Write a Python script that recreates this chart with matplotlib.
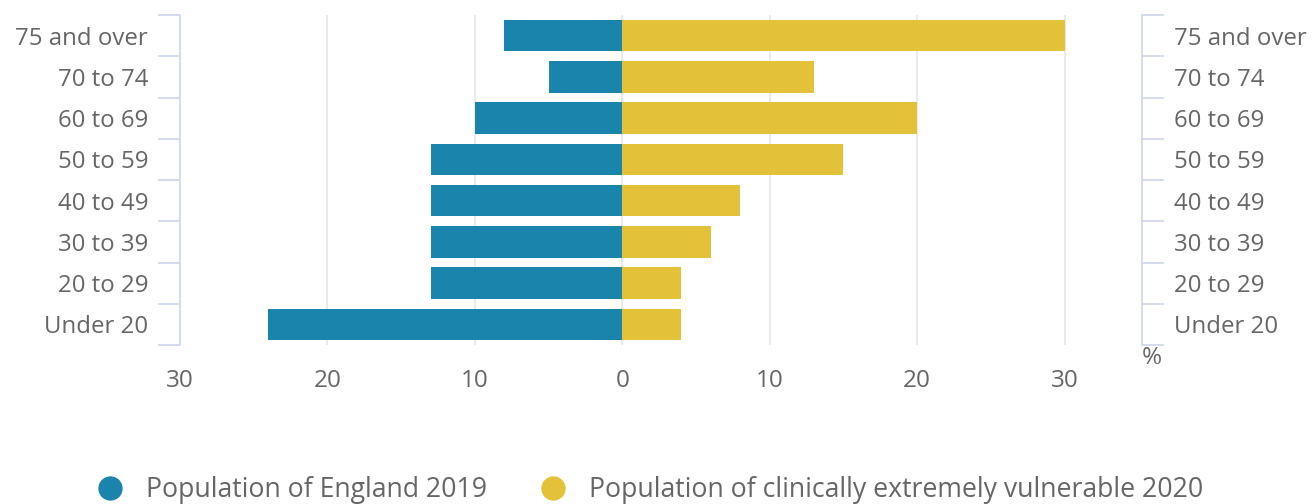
import matplotlib.pyplot as plt
from matplotlib.lines import Line2D
import numpy as np

# age bands, top to bottom as shown
age_groups = ['75 and over', '70 to 74', '60 to 69', '50 to 59',
              '40 to 49', '30 to 39', '20 to 29', 'Under 20']
england_2019 = [8, 5, 10, 13, 13, 13, 13, 24]
cev_2020 = [30, 13, 20, 15, 8, 6, 4, 4]
x_ticks = [-30, -20, -10, 0, 10, 20, 30]

blue = '#1a84ad'
yellow = '#e3c23a'
grey_text = '#666666'
axis_col = '#ccd6eb'
grid_col = '#e6e6e6'

plt.rcParams['font.family'] = ['Open Sans', 'DejaVu Sans']

W, H = 1315, 504
fig = plt.figure(figsize=(W / 100, H / 100), dpi=100)
ax = fig.add_axes([180 / W, (H - 345) / H, (1142 - 180) / W, 330 / H])

n = len(age_groups)
y = np.arange(n)[::-1]
ax.barh(y, [-v for v in england_2019], height=0.76, color=blue, zorder=3)
ax.barh(y, cev_2020, height=0.76, color=yellow, zorder=3)

ax.set_xlim(-30, 35.25)
ax.set_ylim(-0.5, n - 0.5)

# vertical gridlines
for xv in x_ticks[1:]:
    ax.axvline(xv, color=grid_col, lw=1.2, zorder=1)

ax.set_xticks(x_ticks)
ax.set_xticklabels([str(abs(v)) for v in x_ticks])
ax.tick_params(axis='x', length=0, pad=17, labelsize=17.5, labelcolor=grey_text)

# category axes on both sides: ticks on band edges, labels at centres
edges = np.arange(-0.5, n, 1.0)
ax2 = ax.twinx()
ax2.set_ylim(ax.get_ylim())
for a, side in ((ax, 'left'), (ax2, 'right')):
    a.set_yticks(edges)
    a.set_yticklabels([])
    a.set_yticks(y, minor=True)
    a.set_yticklabels(age_groups, minor=True)
    a.tick_params(axis='y', which='major', length=15.5, width=1.2, color=axis_col)
    a.tick_params(axis='y', which='minor', length=0, pad=23,
                  labelsize=17.3, labelcolor=grey_text)
    for s in a.spines.values():
        s.set_visible(False)
    a.spines[side].set_visible(True)
    a.spines[side].set_color(axis_col)
    a.spines[side].set_linewidth(1.2)

ax.text(1.0, -0.002, '%', transform=ax.transAxes, ha='left', va='top',
        fontsize=17.5, color=grey_text)

handles = [Line2D([], [], ls='none', marker='o', ms=16.5, color=blue),
           Line2D([], [], ls='none', marker='o', ms=16.5, color=yellow)]
labels = ['Population of England 2019', 'Population of clinically extremely vulnerable 2020']
fig.legend(handles, labels, loc='center', bbox_to_anchor=(650 / W, (H - 490) / H),
           ncol=2, frameon=False, fontsize=19.2, labelcolor=grey_text,
           handletextpad=0.84, columnspacing=1.98, handlelength=1.0,
           borderpad=0, borderaxespad=0)

fig.savefig('out.png', dpi=100)
